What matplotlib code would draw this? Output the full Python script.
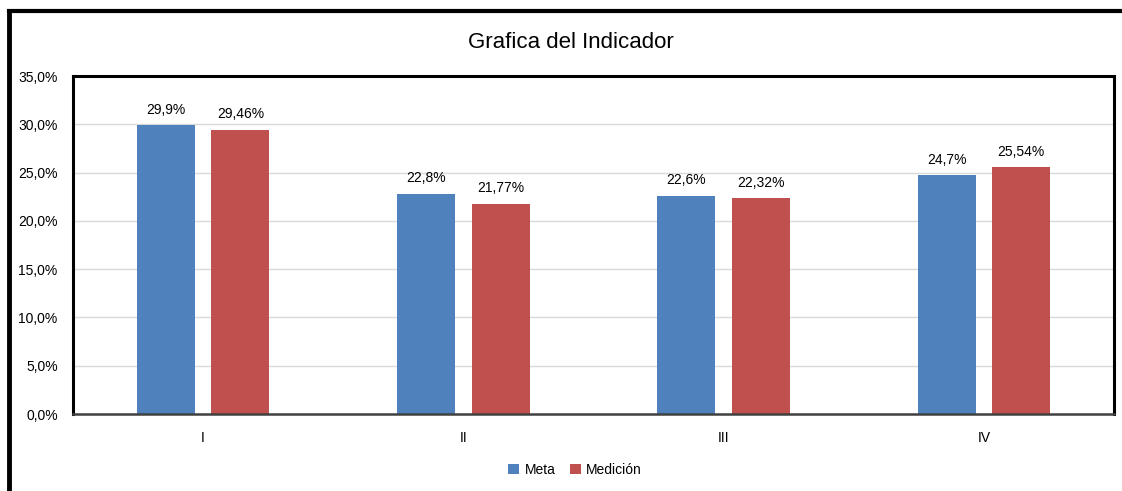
import matplotlib
matplotlib.use("Agg")
import matplotlib.pyplot as plt
import numpy as np
from matplotlib.lines import Line2D
from matplotlib.ticker import FuncFormatter, MultipleLocator

# ── Data ──────────────────────────────────────────────
categories = ["I", "II", "III", "IV"]
meta = [29.9, 22.8, 22.6, 24.7]
medicion = [29.46, 21.77, 22.32, 25.54]
meta_labels = ["29,9%", "22,8%", "22,6%", "24,7%"]
medicion_labels = ["29,46%", "21,77%", "22,32%", "25,54%"]

BLUE = "#4F81BD"
RED = "#C0504D"

plt.rcParams["font.family"] = ["Liberation Sans", "DejaVu Sans"]

fig = plt.figure(figsize=(11.22, 4.91), dpi=100)
ax = fig.add_axes([73 / 1122, 1 - 414 / 491, (1114 - 73) / 1122, (414 - 76) / 491])

x = np.arange(len(categories))
width = 0.223
offset = 0.143

b1 = ax.bar(x - offset, meta, width, color=BLUE, label="Meta")
b2 = ax.bar(x + offset, medicion, width, color=RED, label="Medición")

for rect, lab in zip(b1, meta_labels):
    ax.annotate(lab, (rect.get_x() + rect.get_width() / 2, rect.get_height()),
                xytext=(0, 6), textcoords="offset points", ha="center", va="bottom", fontsize=10)
for rect, lab in zip(b2, medicion_labels):
    ax.annotate(lab, (rect.get_x() + rect.get_width() / 2, rect.get_height()),
                xytext=(0, 6), textcoords="offset points", ha="center", va="bottom", fontsize=10)

ax.set_xlim(-0.5, len(categories) - 0.5)
ax.set_ylim(0, 35)
ax.yaxis.set_major_locator(MultipleLocator(5))
ax.yaxis.set_major_formatter(FuncFormatter(lambda v, _: f"{v:.1f}%".replace(".", ",")))
ax.set_xticks(x)
ax.set_xticklabels(categories)
ax.tick_params(axis="both", length=0, labelsize=10, colors="#000000")
ax.tick_params(axis="x", pad=12)
ax.tick_params(axis="y", pad=11)
ax.grid(axis="y", color="#D9D9D9", linewidth=1)
ax.set_axisbelow(True)
for side in ["left", "top", "right"]:
    ax.spines[side].set_linewidth(2.2)
    ax.spines[side].set_color("black")
ax.spines["bottom"].set_linewidth(1.8)
ax.spines["bottom"].set_color("#404040")

fig.text(0.5 + 10 / 1122, 1 - 42 / 491, "Grafica del Indicador", ha="center", va="center", fontsize=16)

fig.legend(handles=[b1, b2], labels=["Meta", "Medición"], loc="center",
           bbox_to_anchor=(575 / 1122, 1 - 470 / 491), ncol=2, frameon=False,
           fontsize=10, handlelength=0.8, handleheight=0.8, handletextpad=0.4,
           columnspacing=1.0)

# outer chart border (left and top visible)
fig.add_artist(Line2D([8.7 / 1122, 8.7 / 1122], [0, 1 - 11 / 491], transform=fig.transFigure,
                      color="black", linewidth=3.5, solid_capstyle="projecting"))
fig.add_artist(Line2D([8.7 / 1122, 1.0], [1 - 11 / 491, 1 - 11 / 491], transform=fig.transFigure,
                      color="black", linewidth=3, solid_capstyle="projecting"))

fig.savefig("out.png", dpi=100, facecolor="white")
